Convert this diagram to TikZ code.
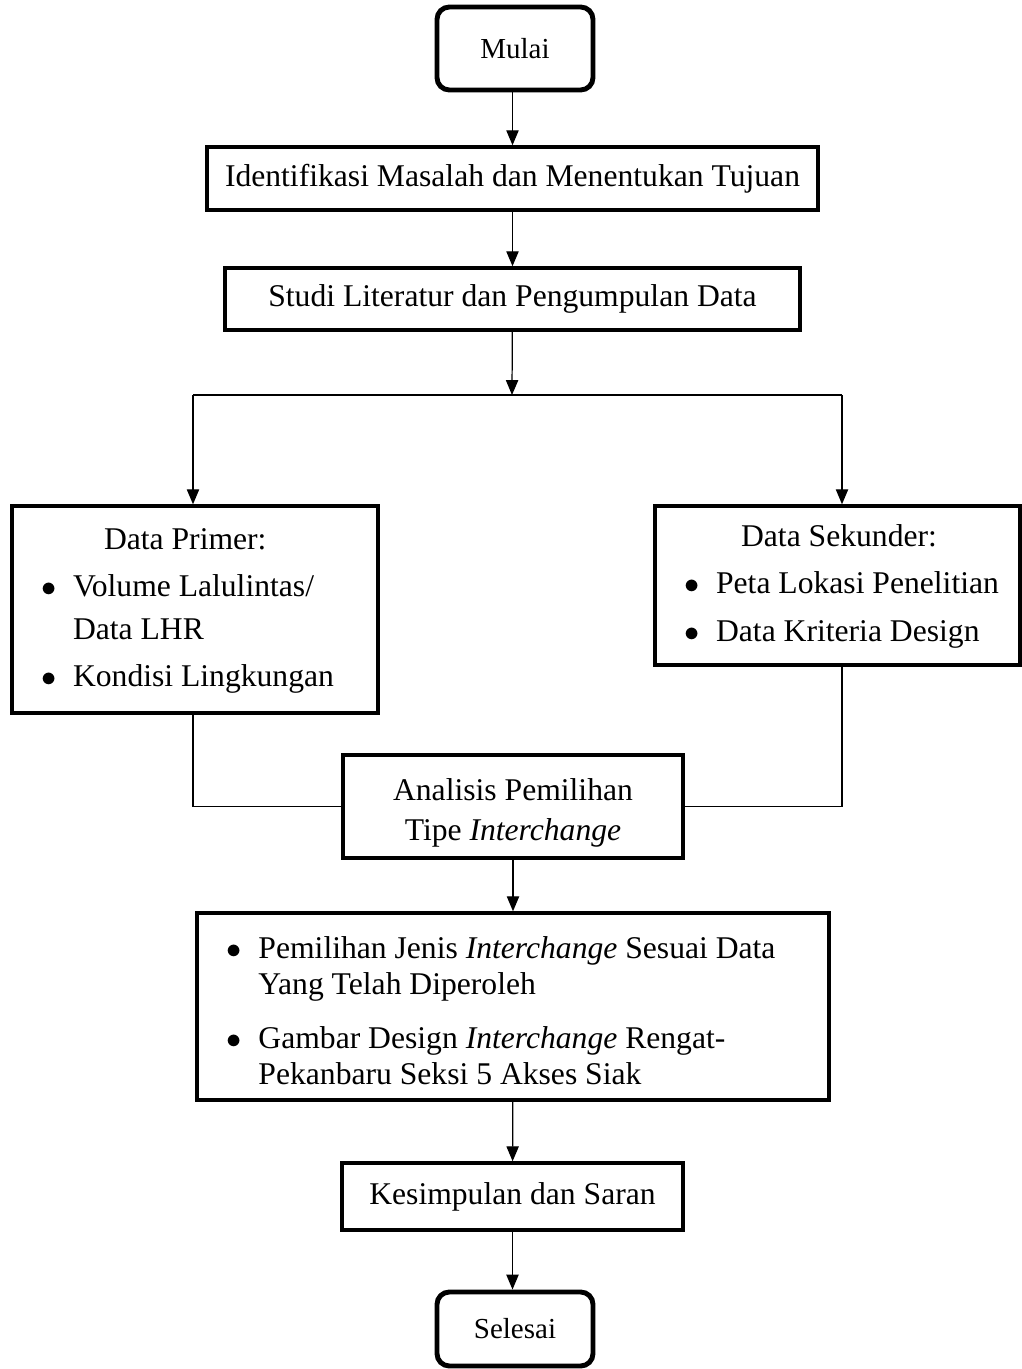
\documentclass[tikz,border=0pt]{standalone}
\usepackage{fontspec}
\setmainfont{Liberation Serif}
\usetikzlibrary{arrows.meta}

\newcommand{\butir}{\makebox[0.64cm][l]{$\bullet$}}

\tikzset{
  terminal/.style={draw, line width=2.8pt, rounded corners=7pt, minimum width=3.12cm, font=\fontsize{16.5}{20}\selectfont},
  prosesbox/.style={draw, line width=2pt, inner sep=0pt, align=center, font=\fontsize{18}{24}\selectfont},
  garis/.style={line width=0.7pt},
  panah/.style={garis, -{Triangle[width=7pt,length=8.5pt]}},
}

\begin{document}
\begin{tikzpicture}[x=0.02cm, y=-0.02cm]
    \useasboundingbox (0,0) rectangle (1021,1369);
    % alur utama
    \node[terminal, minimum height=1.66cm] (mulai) at (515,48.5) {Mulai};
    \node[prosesbox, minimum width=12.22cm, minimum height=1.26cm] (identifikasi) at (512.5,178.5) {Identifikasi Masalah dan Menentukan Tujuan};
    \node[prosesbox, minimum width=11.5cm, minimum height=1.24cm] (studi) at (512.5,299) {Studi Literatur dan Pengumpulan Data};
    \node[prosesbox, minimum width=7.32cm, minimum height=4.14cm] (primer) at (195,609.5) {%
      \begin{tabular}{@{}l@{}l@{\hspace{0.3cm}}}
        \multicolumn{2}{@{}l@{}}{\hspace{1.26cm}Data Primer:}\\[3pt]
        \butir & Volume Lalulintas/\\
               & Data LHR\\[3pt]
        \butir & Kondisi Lingkungan
      \end{tabular}};
    \node[prosesbox, minimum width=7.3cm, minimum height=3.18cm] (sekunder) at (837.5,585.5) {%
      \begin{tabular}{@{\hspace{0.16cm}}l@{}l@{}}
        \multicolumn{2}{@{\hspace{0.16cm}}l@{}}{\hspace{1.14cm}Data Sekunder:}\\[3pt]
        \butir & Peta Lokasi Penelitian\\[3pt]
        \butir & Data Kriteria Design
      \end{tabular}};
    \node[prosesbox, minimum width=6.8cm, minimum height=2.06cm, font=\fontsize{18}{22.7}\selectfont] (analisis) at (513,806.5) {%
      \raisebox{-3.4pt}[\height][\depth]{\begin{tabular}{@{}c@{}}
        Analisis Pemilihan\\
        Tipe \textit{Interchange}
      \end{tabular}}};
    \node[prosesbox, minimum width=12.64cm, minimum height=3.74cm, font=\fontsize{18}{20.5}\selectfont] (hasil) at (513,1006.5) {%
      \raisebox{-4.5pt}[\height][\depth]{\begin{tabular}{@{}l@{}l@{\hspace{0.48cm}}}
        \butir & Pemilihan Jenis \textit{Interchange} Sesuai Data\\
               & Yang Telah Diperoleh\\[10pt]
        \butir & Gambar Design \textit{Interchange} Rengat-\\
               & Pekanbaru Seksi 5 Akses Siak
      \end{tabular}}};
    \node[prosesbox, minimum width=6.82cm, minimum height=1.34cm] (kesimpulan) at (512.5,1196.5) {Kesimpulan dan Saran};
    \node[terminal, minimum height=1.48cm] (selesai) at (515,1329) {Selesai};

    % titik cabang
    \coordinate (cabang) at (512,395);
    \coordinate (kiri) at (193,395);
    \coordinate (kanan) at (842,395);

    % penghubung
    \draw[panah] (mulai.south -| identifikasi.north) -- (identifikasi.north);
    \draw[panah] (identifikasi) -- (studi);
    \draw[panah] (studi) -- (cabang);
    \draw[garis] (kiri) -- (kanan);
    \draw[panah] (kiri) -- (kiri |- primer.north);
    \draw[panah] (kanan) -- (kanan |- sekunder.north);
    \draw[garis] (kiri |- primer.south) |- (analisis.west);
    \draw[garis] (kanan |- sekunder.south) |- (analisis.east);
    \draw[panah] (analisis) -- (hasil);
    \draw[panah] (hasil) -- (kesimpulan);
    \draw[panah] (kesimpulan.south) -- (kesimpulan.south |- selesai.north);
\end{tikzpicture}
\end{document}
